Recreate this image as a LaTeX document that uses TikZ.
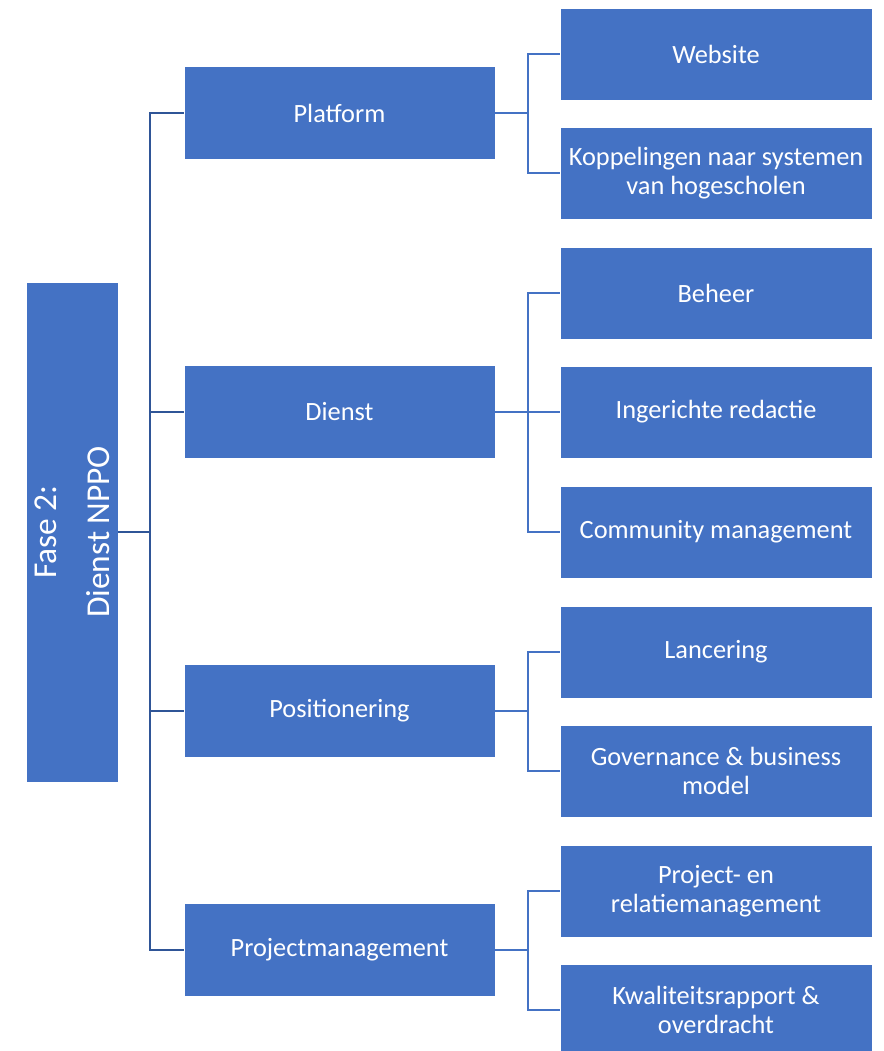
\documentclass[tikz,border=0pt]{standalone}
\usepackage{fontspec}
\setmainfont{Carlito}
\definecolor{boxblue}{HTML}{4472C4}
\definecolor{treeblue}{HTML}{2F5597}
\begin{document}
\begin{tikzpicture}[x=0.02cm,y=-0.02cm,
    every node/.style={fill=boxblue,draw=white,line width=0.3pt,text=white,align=center,inner sep=0pt,
      font=\fontsize{15}{16.5}\selectfont},
    lvlone/.style={minimum width=6.22cm,minimum height=1.86cm},
    lvltwo/.style={minimum width=6.24cm,minimum height=1.84cm},
    tree/.style={draw=treeblue,line width=1.2pt},
    twig/.style={draw=boxblue,line width=1.2pt}]
        \useasboundingbox (0,0) rectangle (884,1051);
        \node[minimum width=1.84cm,minimum height=10cm] (root) at (72,532) {};
        \node[fill=none,draw=none,rotate=90,font=\fontsize{19}{30}\selectfont] (roottxt) at (72,532) {Fase 2:\\Dienst NPPO};
        \node[lvlone] (plat) at (339.5,113) {Platform};
        \node[lvlone] (dienst) at (339.5,412) {Dienst};
        \node[lvlone] (pos) at (339.5,711) {Positionering};
        \node[lvlone] (pm) at (339.5,950) {Projectmanagement};
        \node[lvltwo] (web) at (716,54) {Website};
        \node[lvltwo] (kop) at (716,173) {Koppelingen naar systemen\\van hogescholen};
        \node[lvltwo] (beh) at (716,293) {Beheer};
        \node[lvltwo] (red) at (716,412) {Ingerichte redactie};
        \node[lvltwo] (com) at (716,532) {Community management};
        \node[lvltwo] (lan) at (716,652) {Lancering};
        \node[lvltwo] (gov) at (716,771) {Governance \& business\\model};
        \node[lvltwo] (rel) at (716,891) {Project- en\\relatiemanagement};
        \node[lvltwo] (kwa) at (716,1010) {Kwaliteitsrapport \&\\overdracht};
        \coordinate (rj) at (150,532);
        \coordinate (pj) at (528,113);
        \coordinate (dj) at (528,412);
        \coordinate (qj) at (528,711);
        \coordinate (mj) at (528,950);
        \draw[tree] (root.east) -- (rj);
        \draw[tree] (rj) |- (plat.west);
        \draw[tree] (rj) |- (dienst.west);
        \draw[tree] (rj) |- (pos.west);
        \draw[tree] (rj) |- (pm.west);
        \draw[twig] (plat.east) -- (pj);
        \draw[twig] (pj) |- (web.west);
        \draw[twig] (pj) |- (kop.west);
        \draw[twig] (dienst.east) -- (dj);
        \draw[twig] (dj) |- (beh.west);
        \draw[twig] (dj) -- (red.west);
        \draw[twig] (dj) |- (com.west);
        \draw[twig] (pos.east) -- (qj);
        \draw[twig] (qj) |- (lan.west);
        \draw[twig] (qj) |- (gov.west);
        \draw[twig] (pm.east) -- (mj);
        \draw[twig] (mj) |- (rel.west);
        \draw[twig] (mj) |- (kwa.west);
      \end{tikzpicture}
\end{document}
